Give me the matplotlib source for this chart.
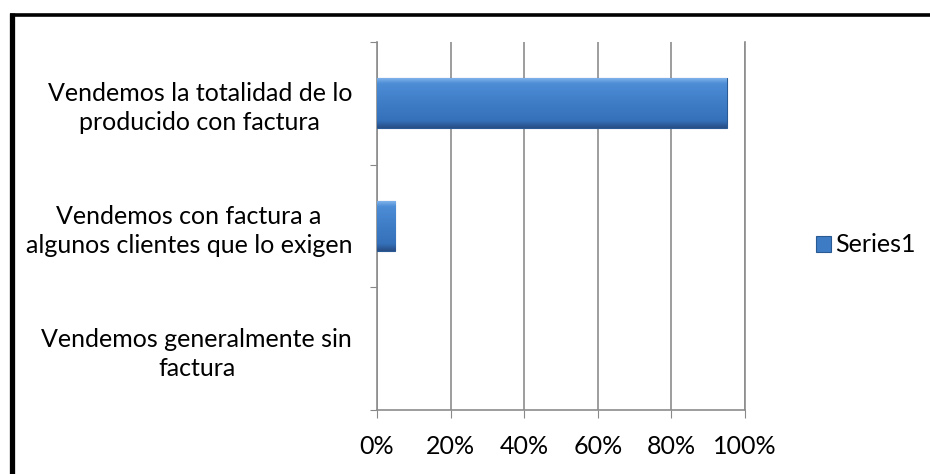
import numpy as np
import matplotlib.pyplot as plt
from matplotlib.patches import Patch
from matplotlib.lines import Line2D
from matplotlib.colors import LinearSegmentedColormap

plt.rcParams['font.family'] = ['Lato', 'DejaVu Sans']

# respuestas sobre la venta con factura
categorias = [
    "Vendemos la totalidad de lo\nproducido con factura",
    "Vendemos con factura a\nalgunos clientes que lo exigen",
    "Vendemos generalmente sin\nfactura",
]
valores = [0.95, 0.05, 0.0]
ticks_x = [0, 0.2, 0.4, 0.6, 0.8, 1.0]
etiquetas_x = ["0%", "20%", "40%", "60%", "80%", "100%"]
serie = "Series1"

W, H = 930, 474
fs = 18
fig = plt.figure(figsize=(W / 100, H / 100), dpi=100)
ax = fig.add_axes([377 / W, 1 - 410 / H, (745 - 377) / W, (410 - 42) / H])

y = np.arange(len(categorias))
alto = 0.41
azul = "#3D7BC4"
borde = "#2A5A94"
grad = LinearSegmentedColormap.from_list(
    "bisel", [(0.0, "#86B8EE"), (0.12, "#4D8DD6"), (0.5, "#3F7DC7"),
              (0.86, "#3571BA"), (1.0, "#284F86")])

bars = ax.barh(y, valores, height=alto, color=azul, edgecolor=borde,
               linewidth=0.8, zorder=3)
# degradado vertical dentro de cada barra
for b, v in zip(bars, valores):
    if v <= 0:
        b.set_visible(False)
        continue
    x0, y0 = b.get_x(), b.get_y()
    img = np.linspace(0, 1, 64).reshape(-1, 1)
    im = ax.imshow(img, cmap=grad, aspect="auto", zorder=3.5,
                   extent=(x0, x0 + v, y0 + alto, y0), origin="upper",
                   interpolation="bilinear")
    im.set_clip_path(b)

ax.set_xlim(0, 1.0)
ax.set_ylim(2.5, -0.5)
ax.set_xticks(ticks_x)
ax.set_xticklabels(etiquetas_x, fontsize=fs)
ax.set_yticks([-0.5, 0.5, 1.5, 2.5], minor=False)
ax.set_yticklabels([])
ax.set_yticks(y, minor=True)
ax.set_yticklabels(categorias, minor=True, fontsize=fs,
                   multialignment="center", linespacing=1.32)
ax.tick_params(axis="y", which="minor", length=0, pad=18)
ax.tick_params(axis="y", which="major", length=5, color="#888888")
ax.tick_params(axis="x", length=6, color="#888888", pad=12)

ax.grid(axis="x", color="#8C8C8C", linewidth=1.2, zorder=0)
ax.set_axisbelow(True)
ax.spines["top"].set_visible(False)
for s in ["left", "bottom", "right"]:
    ax.spines[s].set_color("#8C8C8C")
    ax.spines[s].set_linewidth(1.2)

# leyenda
h = Patch(facecolor=azul, edgecolor=borde, linewidth=0.8)
fig.legend([h], [serie], loc="center left", bbox_to_anchor=(793 / W, 1 - 245 / H),
           frameon=False, fontsize=fs, handlelength=0.6, handleheight=0.6,
           handletextpad=0.2)

# marco exterior
fig.add_artist(Line2D([11.5 / W, 11.5 / W], [0, 1 - 13 / H], transform=fig.transFigure,
                      color="black", linewidth=3.8, solid_capstyle="butt"))
fig.add_artist(Line2D([9.5 / W, 1], [1 - 14.5 / H, 1 - 14.5 / H], transform=fig.transFigure,
                      color="black", linewidth=2.6, solid_capstyle="butt"))

fig.savefig("out.png", dpi=100)
